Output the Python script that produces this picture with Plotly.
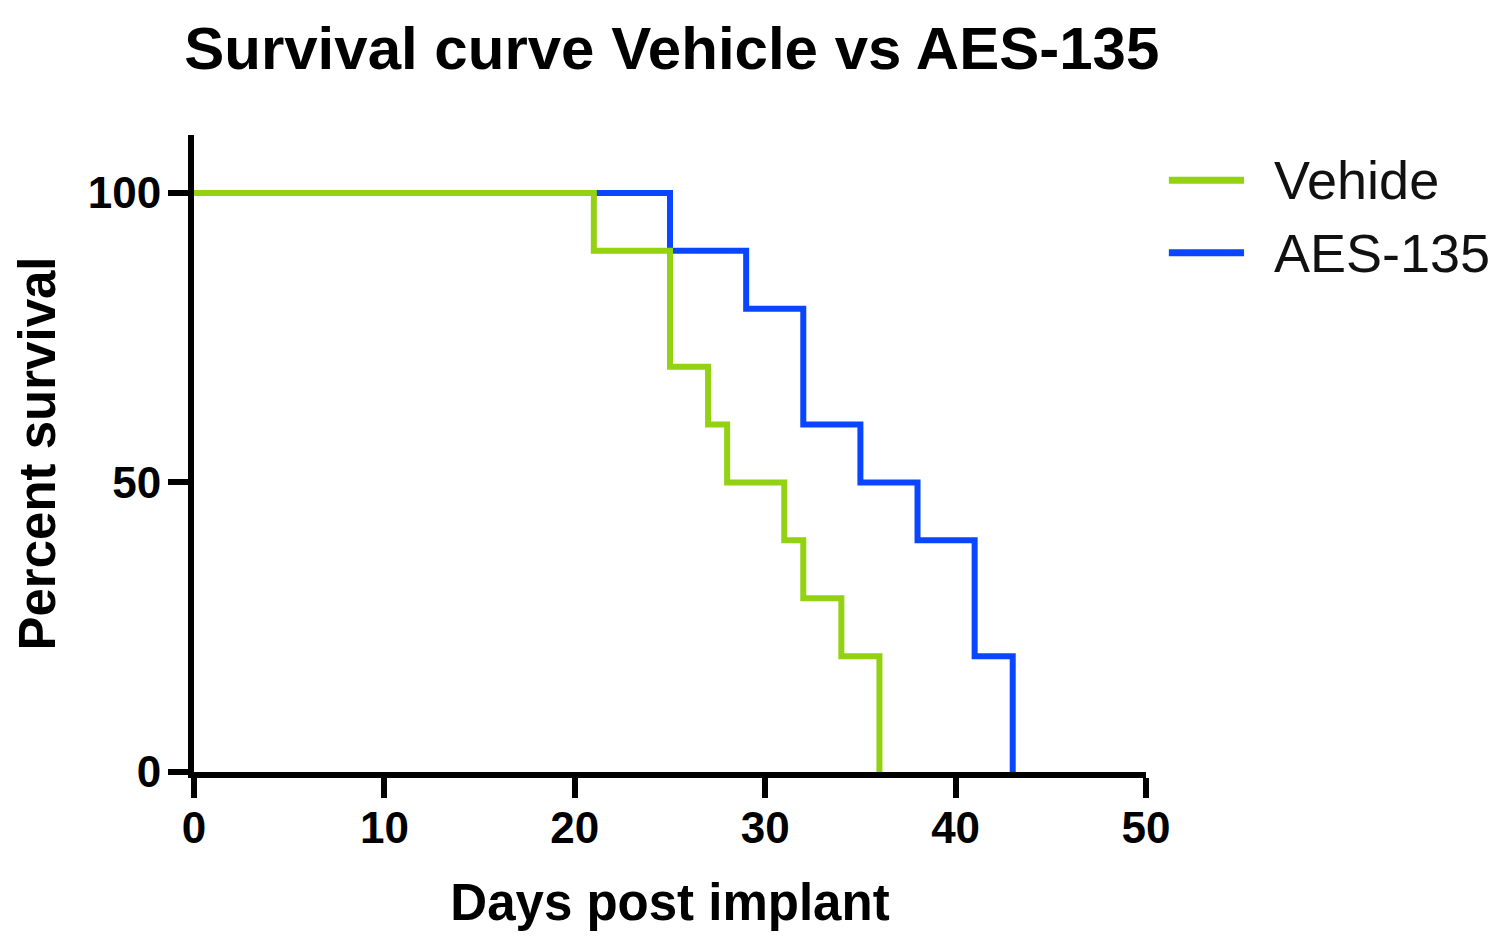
#!/usr/bin/env python3

import plotly.graph_objects as go

# Kaplan-Meier steps
vehicle_days = [0, 21, 25, 27, 28, 31, 32, 34, 36]
vehicle_pct = [100, 90, 70, 60, 50, 40, 30, 20, 0]
aes_days = [0, 25, 29, 32, 35, 38, 41, 43]
aes_pct = [100, 90, 80, 60, 50, 40, 20, 0]

series_names = ['Vehide', 'AES-135']
colors = ['#92D212', '#0A46FF']

x_ticks = [0, 10, 20, 30, 40, 50]
y_ticks = [0, 50, 100]

font = 'Liberation Sans, Arial, sans-serif'

fig = go.Figure()
# blue first so the green one sits on top where they overlap
for days, pct, name, color in [
    (aes_days, aes_pct, series_names[1], colors[1]),
    (vehicle_days, vehicle_pct, series_names[0], colors[0]),
]:
    fig.add_trace(go.Scatter(
        x=days,
        y=pct,
        mode='lines',
        line=dict(color=color, width=6, shape='hv'),
        name=name,
        showlegend=False,
    ))

# hand-made legend so the line samples are as long as in the original
legend_y = [0.929, 0.815]
for name, color, ly in zip(series_names, colors, legend_y):
    fig.add_shape(
        type='line', xref='paper', yref='paper',
        x0=1.024, x1=1.103, y0=ly, y1=ly,
        line=dict(color=color, width=7),
    )
    fig.add_annotation(
        xref='paper', yref='paper', x=1.132, y=ly,
        text=name, showarrow=False, xanchor='left', yanchor='middle',
        font=dict(family=font, size=54, color='#111111'),
    )

fig.update_layout(
    width=1500,
    height=945,
    paper_bgcolor='white',
    plot_bgcolor='white',
    margin=dict(l=186, r=362, t=127, b=181),
    title=dict(
        text='<b>Survival curve Vehicle vs AES-135</b>',
        x=0.4425, xanchor='center',
        y=0.958, yanchor='middle',
        font=dict(family=font, size=60, color='black'),
    ),
    xaxis=dict(
        range=[0, 50],
        tickvals=x_ticks,
        ticktext=['<b>%d</b>' % v for v in x_ticks],
        showline=True, linecolor='black', linewidth=6,
        ticks='outside', ticklen=20, tickwidth=6, tickcolor='black',
        ticklabelstandoff=-8,
        showgrid=False, zeroline=False,
        tickfont=dict(family=font, size=44, color='black'),
        title=dict(text='<b>Days post implant</b>', standoff=36,
                   font=dict(family=font, size=51, color='black')),
    ),
    yaxis=dict(
        range=[0, 110],
        tickvals=y_ticks,
        ticktext=['<b>%d</b>' % v for v in y_ticks],
        showline=True, linecolor='black', linewidth=6,
        ticks='outside', ticklen=20, tickwidth=6, tickcolor='black',
        ticklabelstandoff=-2,
        showgrid=False, zeroline=False,
        tickfont=dict(family=font, size=44, color='black'),
        title=dict(text='<b>Percent survival</b>', standoff=18,
                   font=dict(family=font, size=51, color='black')),
    ),
)

fig.write_html('out.html')
